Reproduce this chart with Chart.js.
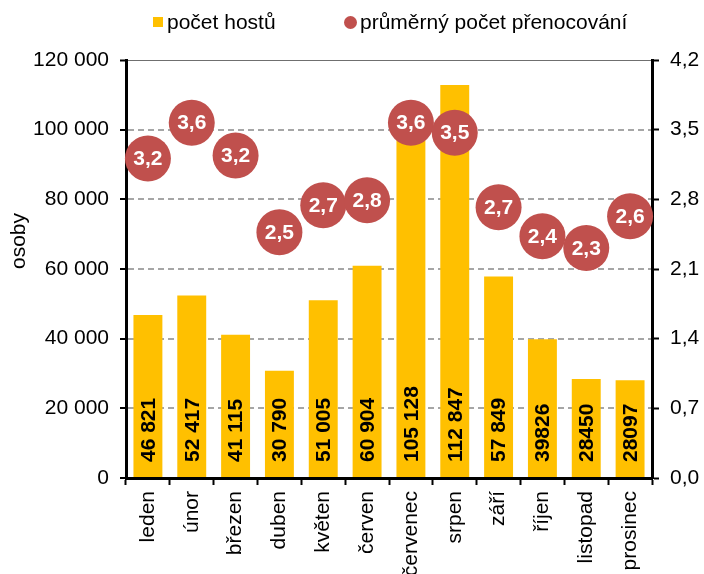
<!DOCTYPE html>
<html>
<head>
<meta charset="utf-8">
<script src="https://cdn.jsdelivr.net/npm/chart.js@4.4.1/dist/chart.umd.min.js"></script>
<style>
  body { margin: 0; background: #fff; }
  #wrap { width: 704px; height: 574px; position: relative; }
</style>
</head>
<body>
<div id="wrap"><canvas id="graf"></canvas></div>
<script>
// měsíce a hodnoty
const mesice = ['leden', 'únor', 'březen', 'duben', 'květen', 'červen', 'červenec', 'srpen', 'září', 'říjen', 'listopad', 'prosinec'];
const pocetHostu = [46821, 52417, 41115, 30790, 51005, 60904, 105128, 112847, 57849, 39826, 28450, 28097];
const popiskyHostu = ['46 821', '52 417', '41 115', '30 790', '51 005', '60 904', '105 128', '112 847', '57 849', '39826', '28450', '28097'];
const prenocovani = [3.21, 3.57, 3.24, 2.47, 2.74, 2.79, 3.57, 3.47, 2.72, 2.43, 2.31, 2.63];

const barvaSloupcu = '#FFC000';
const barvaKruhu = '#C0504D';
const pismo = '"Liberation Sans", Arial, sans-serif';

Chart.defaults.font.family = pismo;
Chart.defaults.font.size = 21;
Chart.defaults.color = '#000';

// popisky v kruzich a ve sloupcich, legenda a titulek osy
const popiskyPlugin = {
    id: 'popisky',
    afterDatasetsDraw(chart) {
        const ctx = chart.ctx;
        const y0 = chart.scales.y.getPixelForValue(0);

        chart.getDatasetMeta(1).data.forEach((bar, i) => {
            ctx.save();
            ctx.translate(bar.x + 1, y0 - 16);
            ctx.rotate(-Math.PI / 2);
            ctx.font = 'bold 21px ' + pismo;
            ctx.fillStyle = '#000';
            ctx.textAlign = 'left';
            ctx.textBaseline = 'middle';
            ctx.fillText(popiskyHostu[i], 0, 0);
            ctx.restore();
        });

        chart.getDatasetMeta(0).data.forEach((pt, i) => {
            ctx.save();
            ctx.font = 'bold 21px ' + pismo;
            ctx.fillStyle = '#fff';
            ctx.textAlign = 'center';
            ctx.textBaseline = 'middle';
            ctx.fillText(prenocovani[i].toFixed(1).replace('.', ','), pt.x, pt.y + 1);
            ctx.restore();
        });
    },
    afterDraw(chart) {
        const ctx = chart.ctx;
        ctx.save();
        ctx.font = '21px ' + pismo;
        ctx.fillStyle = '#000';
        ctx.textBaseline = 'alphabetic';
        // legenda
        ctx.fillStyle = barvaSloupcu;
        ctx.fillRect(153, 17, 10, 10);
        ctx.fillStyle = '#000';
        ctx.fillText('počet hostů', 167, 29);
        ctx.fillStyle = barvaKruhu;
        ctx.beginPath();
        ctx.arc(350.5, 22.5, 6.5, 0, Math.PI * 2);
        ctx.fill();
        ctx.fillStyle = '#000';
        ctx.fillText('průměrný počet přenocování', 360, 29);
        // titulek osy
        ctx.translate(19, 241);
        ctx.rotate(-Math.PI / 2);
        ctx.textAlign = 'center';
        ctx.textBaseline = 'middle';
        ctx.fillText('osoby', 0, 0);
        ctx.restore();
    }
};

const graf = new Chart(document.getElementById('graf').getContext('2d'), {
    type: 'bar',
    data: {
        labels: mesice,
        datasets: [{
            type: 'line',
            label: 'průměrný počet přenocování',
            data: prenocovani,
            yAxisID: 'y1',
            showLine: false,
            pointRadius: 23,
            pointHoverRadius: 23,
            pointBackgroundColor: barvaKruhu,
            pointBorderWidth: 0,
            borderColor: barvaKruhu,
            clip: false,
            order: 1
        }, {
            type: 'bar',
            label: 'počet hostů',
            data: pocetHostu,
            yAxisID: 'y',
            backgroundColor: barvaSloupcu,
            categoryPercentage: 1,
            barPercentage: 0.66,
            order: 2
        }]
    },
    options: {
        responsive: true,
        maintainAspectRatio: false,
        animation: false,
        layout: { padding: { top: 60, left: 0, right: 0, bottom: 0 } },
        plugins: {
            legend: { display: false },
            tooltip: { enabled: false }
        },
        scales: {
            x: {
                grid: { drawOnChartArea: false, tickLength: 7, tickColor: '#000', tickWidth: 2 },
                border: { color: '#000', width: 3 },
                ticks: { minRotation: 90, maxRotation: 90, padding: 6, autoSkip: false },
                afterFit(scale) { scale.height = 96; }
            },
            y: {
                position: 'left',
                min: 0,
                max: 120000,
                ticks: {
                    stepSize: 20000,
                    padding: 11,
                    callback: v => v.toLocaleString('cs-CZ').replace(/\s/g, ' ')
                },
                grid: {
                    color: c => (c.tick && c.tick.value === 120000) ? '#6f6f6f' : '#A6A6A6',
                    lineWidth: c => (c.tick && c.tick.value === 120000) ? 1 : 2,
                    tickLength: 6,
                    tickColor: '#000',
                    tickWidth: 2
                },
                border: {
                    color: '#000',
                    width: 3,
                    dash: c => (c.tick && c.tick.value !== 120000) ? [6, 4] : []
                },
                afterFit(scale) { scale.width = 126; }
            },
            y1: {
                position: 'right',
                min: 0,
                max: 4.2,
                ticks: {
                    stepSize: 0.7,
                    padding: 11,
                    callback: v => v.toFixed(1).replace('.', ',')
                },
                grid: { drawOnChartArea: false, tickLength: 7, tickColor: '#000', tickWidth: 2 },
                border: { color: '#000', width: 3 },
                afterFit(scale) { scale.width = 52; }
            }
        }
    },
    plugins: [popiskyPlugin]
});
</script>
</body>
</html>
